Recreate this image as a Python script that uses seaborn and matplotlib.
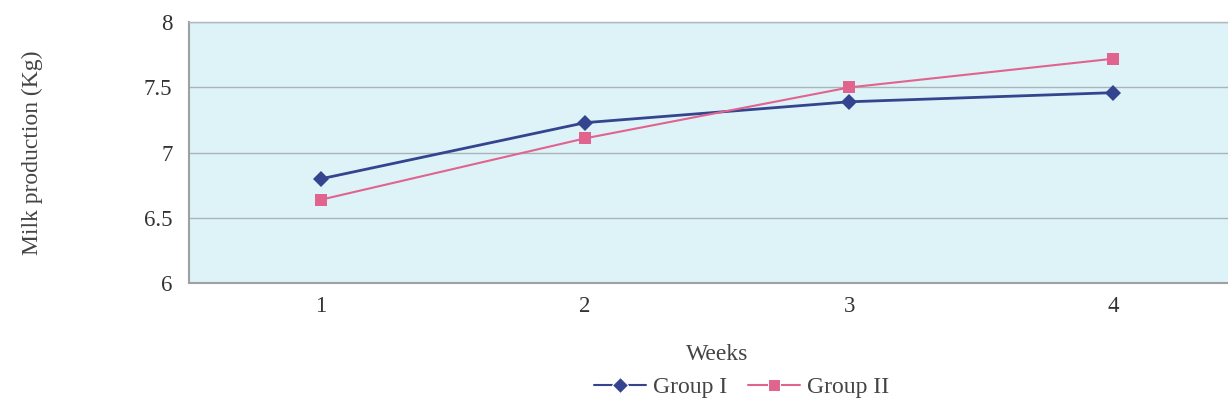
import matplotlib
matplotlib.use('Agg')
import matplotlib.pyplot as plt
import seaborn as sns
import pandas as pd

weeks = [1, 2, 3, 4]
group1 = [6.80, 7.23, 7.39, 7.46]
group2 = [6.64, 7.11, 7.50, 7.72]
groups = ['Group I', 'Group II']

sns.set_style('white')
plt.rcParams['font.family'] = ['Liberation Serif', 'DejaVu Serif']

df = pd.DataFrame({
    'week': weeks * 2,
    'milk': group1 + group2,
    'group': [groups[0]] * 4 + [groups[1]] * 4,
})

fig = plt.figure(figsize=(12.28, 4.11), dpi=100)
ax = fig.add_axes([0.154, 0.311, 0.86, 0.635])
ax.set_facecolor('#ddf3f8')

palette = {'Group I': '#34448f', 'Group II': '#e0648e'}
sns.lineplot(data=df, x='week', y='milk', hue='group', style='group',
             markers={'Group I': 'D', 'Group II': 's'}, dashes=False,
             palette=palette, markersize=8, ax=ax, legend=True)
for ln, lw in zip(ax.lines, [2.0, 1.5]):
    ln.set_linewidth(lw)
    ln.set_markeredgewidth(0)

ax.set_xlim(0.5, 4.5)
ax.set_ylim(6, 8)
ax.set_xticks(weeks)
ax.set_yticks([6, 6.5, 7, 7.5, 8])
ax.set_yticklabels(['6', '6.5', '7', '7.5', '8'])
ax.yaxis.grid(True, color='#a9b4b8', linewidth=1)
ax.set_axisbelow(True)
for s in ['top', 'right', 'left', 'bottom']:
    ax.spines[s].set_color('#a0a0a0')
    ax.spines[s].set_linewidth(1.5)
ax.spines['top'].set_linewidth(1.0)
ax.spines['top'].set_color('#b0b8bb')
ax.tick_params(axis='both', labelsize=16.5, colors='#333333', length=0)
ax.tick_params(axis='y', pad=12)
ax.tick_params(axis='x', pad=9)
ax.set_xlabel('Weeks', fontsize=17, color='#444444', labelpad=20)
ax.set_ylabel('Milk production (Kg)', fontsize=17, color='#444444')
ax.yaxis.set_label_coords(-0.138, 0.5)

handles, labels = ax.get_legend_handles_labels()
ax.get_legend().remove()
fig.legend(handles, labels, loc='center', bbox_to_anchor=(0.604, 0.058),
           ncol=2, frameon=False, fontsize=17, handlelength=2.2, columnspacing=0.9,
           handletextpad=0.3, labelcolor='#444444')

fig.savefig('out.png', dpi=100)
